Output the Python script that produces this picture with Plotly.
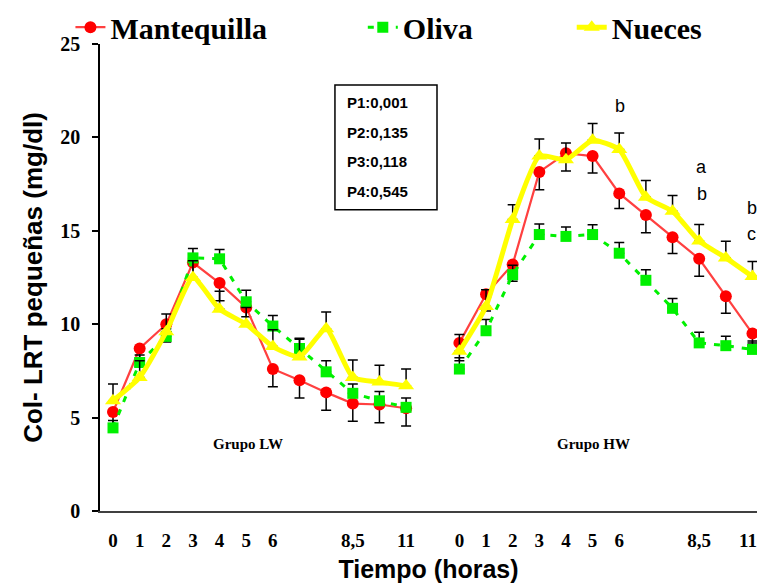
import plotly.graph_objects as go

# ---------------- data ----------------
series_names = ["Mantequilla", "Oliva", "Nueces"]
group_labels = ["Grupo LW", "Grupo HW"]
tick_labels = ["0", "1", "2", "3", "4", "5", "6", "8,5", "11"]
tick_slots = [0, 1, 2, 3, 4, 5, 6, 9, 11]      # slot position of each tick label
point_slots = list(range(12))                  # 12 sampling points per group
hw_offset = 13                                 # HW group starts after one empty slot

mantequilla_lw = [5.3, 8.7, 10.0, 13.3, 12.2, 10.9, 7.6, 7.0, 6.35, 5.75, 5.7, 5.5]
mantequilla_hw = [9.0, 11.6, 13.2, 18.15, 19.15, 19.0, 17.0, 15.85, 14.65, 13.5, 11.5, 9.5]
oliva_lw = [4.45, 7.95, 9.35, 13.55, 13.5, 11.2, 9.9, 8.7, 7.45, 6.3, 5.9, 5.55]
oliva_hw = [7.6, 9.65, 12.65, 14.8, 14.7, 14.8, 13.8, 12.35, 10.85, 9.0, 8.85, 8.65]
nueces_lw = [5.9, 7.15, 9.6, 12.5, 10.8, 10.0, 8.8, 8.25, 9.75, 7.15, 6.9, 6.7]
nueces_hw = [8.55, 10.95, 15.6, 19.0, 18.8, 19.85, 19.35, 16.8, 16.05, 14.45, 13.55, 12.55]

# standard errors (Mantequilla drawn downward, the others upward)
mantequilla_err_lw = [0.95, 0.95, 0.95, 0.95, 0.95, 0.5, 0.95, 0.95, 0.95, 0.95, 0.98, 0.95]
mantequilla_err_hw = [0.95, 0.9, 0.9, 0.95, 0.95, 0.9, 0.8, 0.95, 0.87, 0.93, 0.92, 0.5]
oliva_err_lw = [0.4, 0.4, 0.4, 0.5, 0.5, 0.62, 0.57, 0.55, 0.6, 0.5, 0.5, 0.5]
oliva_err_hw = [0.6, 0.6, 0.5, 0.57, 0.5, 0.53, 0.57, 0.57, 0.52, 0.57, 0.5, 0.45]
nueces_err_lw = [0.9, 0.9, 0.95, 0.9, 0.97, 0.9, 0.9, 0.95, 0.9, 0.93, 0.9, 0.9]
nueces_err_hw = [0.9, 0.9, 0.8, 0.92, 0.9, 0.89, 0.89, 0.89, 0.84, 0.89, 0.89, 0.8]

p_values = ["P1:0,001", "P2:0,135", "P3:0,118", "P4:0,545"]
letters = [("b", 19.03, 21.69), ("a", 22.1, 18.43), ("b", 22.1, 16.99),
           ("b", 23.97, 16.24), ("c", 23.97, 14.85)]

# ---------------- build ----------------
x_all = point_slots + [None] + [p + hw_offset for p in point_slots]


def join(a, b):
    return a + [None] + b


def zeros(n):
    return [0] * n


fig = go.Figure()

err_style = dict(type="data", color="black", thickness=1.5, width=5, symmetric=False)

fig.add_trace(go.Scatter(
    x=x_all, y=join(mantequilla_lw, mantequilla_hw), name=series_names[0],
    mode="lines+markers", legend="legend",
    line=dict(color="#ff4040", width=2.2),
    marker=dict(symbol="circle", size=12, color="#ff0000"),
    error_y=dict(array=zeros(25), arrayminus=join(mantequilla_err_lw, mantequilla_err_hw), **err_style),
))
fig.add_trace(go.Scatter(
    x=x_all, y=join(oliva_lw, oliva_hw), name=series_names[1],
    mode="lines+markers", legend="legend2",
    line=dict(color="#00f000", width=3, dash="6px,8px"),
    marker=dict(symbol="square", size=11, color="#00f000"),
    error_y=dict(array=join(oliva_err_lw, oliva_err_hw), arrayminus=zeros(25), **err_style),
))
fig.add_trace(go.Scatter(
    x=x_all, y=join(nueces_lw, nueces_hw), name=series_names[2],
    mode="lines+markers", legend="legend3",
    line=dict(color="#ffff00", width=5, shape="spline", smoothing=0.5),
    marker=dict(symbol="triangle-up", size=14, color="#ffff00"),
    error_y=dict(array=join(nueces_err_lw, nueces_err_hw), arrayminus=zeros(25), **err_style),
))

tickvals = tick_slots + [t + hw_offset for t in tick_slots]
tickvals[-1] -= 0.17   # keep the last label inside the page edge
ticktext = tick_labels + tick_labels

annotations = []
for i, g in enumerate(group_labels):
    annotations.append(dict(x=5.07 + i * hw_offset - (0.05 * i), y=3.6, xref="x", yref="y",
                            text=g, showarrow=False,
                            font=dict(family="Liberation Serif", size=15, color="black", weight="bold")))
for t, ax, ay in letters:
    annotations.append(dict(x=ax, y=ay, xref="x", yref="y", text=t, showarrow=False,
                            font=dict(family="Liberation Sans", size=18, color="black")))
p_y = [21.85, 20.25, 18.7, 17.09]
for t, py in zip(p_values, p_y):
    annotations.append(dict(x=8.71, y=py, xref="x", yref="y", text=t, showarrow=False,
                            xanchor="left",
                            font=dict(family="Liberation Sans", size=15, color="black", weight="bold")))

legend_font = dict(family="Liberation Serif", size=30, color="black", weight="bold")
leg_common = dict(font=legend_font, bgcolor="rgba(0,0,0,0)", yanchor="middle", xanchor="left",
                  y=1.036, orientation="h")

fig.update_layout(
    width=757, height=588,
    margin=dict(l=100, r=0, t=44, b=77, autoexpand=False),
    paper_bgcolor="white", plot_bgcolor="white",
    showlegend=True,
    legend=dict(x=-0.045, **leg_common),
    legend2=dict(x=0.400, **leg_common),
    legend3=dict(x=0.718, **leg_common),
    annotations=annotations,
    shapes=[dict(type="rect", xref="x", yref="y", x0=8.33, x1=12.16, y0=16.13, y1=22.81,
                 line=dict(color="black", width=1.5), fillcolor="rgba(0,0,0,0)")],
    xaxis=dict(
        range=[-0.488, 24.17], showgrid=False, zeroline=False, automargin=False,
        showline=True, linecolor="#404040", linewidth=2,
        tickmode="array", tickvals=tickvals, ticktext=ticktext, ticks="",
        ticklabelstandoff=11, ticklabeloverflow="allow",
        tickfont=dict(family="Liberation Serif", size=19, color="black", weight="bold"),
        title=dict(text="Tiempo (horas)", standoff=11,
                   font=dict(family="Liberation Sans", size=25, color="black", weight="bold")),
    ),
    yaxis=dict(
        range=[0, 25], showgrid=False, zeroline=False, automargin=False,
        showline=True, linecolor="black", linewidth=1.5,
        tickmode="array", tickvals=[0, 5, 10, 15, 20, 25], ticks="outside", ticklen=6,
        tickwidth=1.5, tickcolor="black", ticklabelstandoff=8,
        tickfont=dict(family="Liberation Serif", size=20, color="black", weight="bold"),
        title=dict(text="Col- LRT pequeñas (mg/dl)", standoff=10,
                   font=dict(family="Liberation Sans", size=26, color="black", weight="bold")),
    ),
)

fig.write_html("out.html", config={"displayModeBar": False},
               post_script="document.body.style.margin='0px';")
